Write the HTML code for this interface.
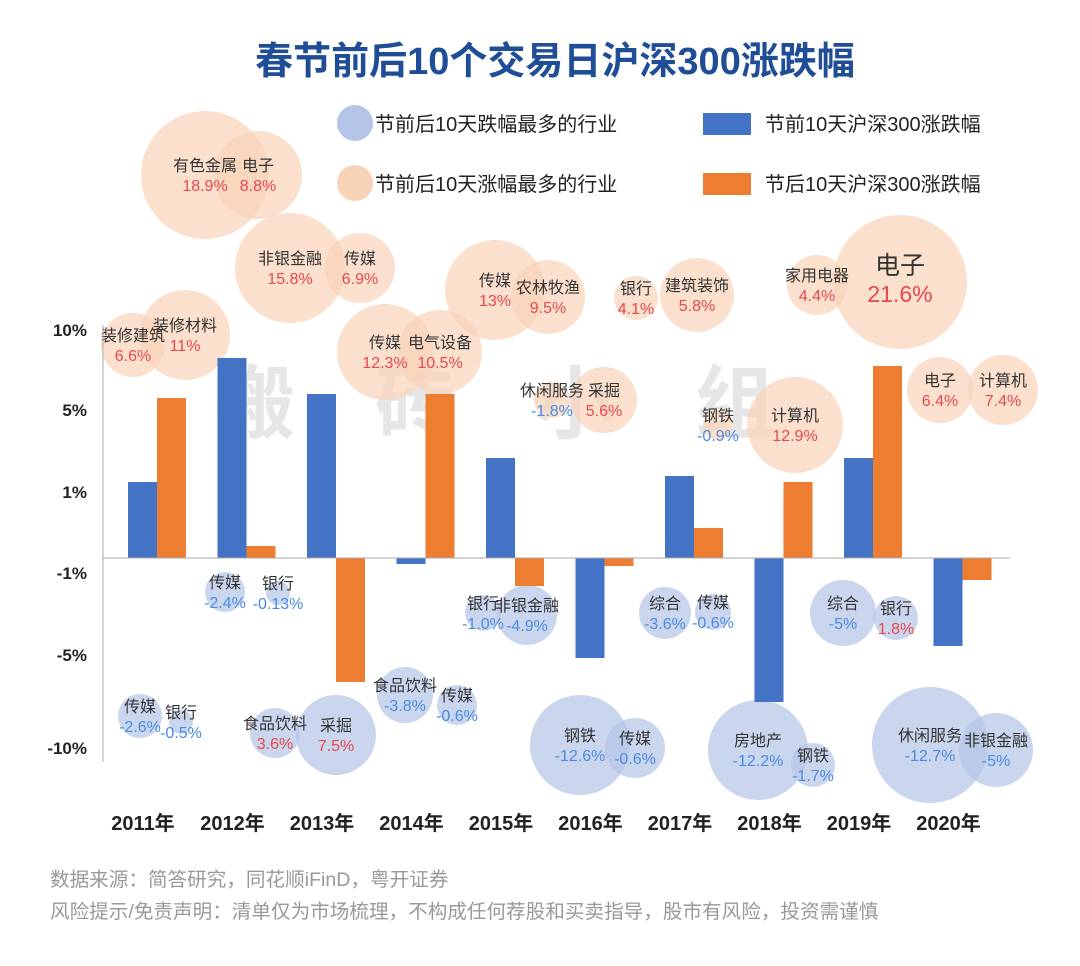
<!DOCTYPE html>
<html><head><meta charset="utf-8">
<style>
body{margin:0;background:#fff;font-family:"Liberation Sans","Noto Sans CJK SC",sans-serif;}
svg text{font-family:"Liberation Sans","Noto Sans CJK SC",sans-serif;}
</style></head>
<body>
<svg id="chart" width="1080" height="961" viewBox="0 0 1080 961" xmlns="http://www.w3.org/2000/svg">
<text x="555" y="74" text-anchor="middle" font-size="38" font-weight="bold" fill="#1f4e96">春节前后10个交易日沪深300涨跌幅</text>
<g font-size="80" font-weight="bold" fill="#e6e6e6">
<text x="215" y="432">搬</text><text x="375" y="432">砖</text><text x="535" y="432">小</text><text x="695" y="432">组</text>
</g>
<g font-size="20" fill="#222">
<circle cx="355" cy="123" r="18" fill="#b4c4e6"/>
<text x="375" y="131">节前后10天跌幅最多的行业</text>
<circle cx="355" cy="183" r="18" fill="#f8d3b8"/>
<text x="375" y="191">节前后10天涨幅最多的行业</text>
<rect x="703" y="113" width="48" height="22" fill="#4472c4"/>
<text x="765" y="131">节前10天沪深300涨跌幅</text>
<rect x="703" y="173" width="48" height="22" fill="#ed7d31"/>
<text x="765" y="191">节后10天沪深300涨跌幅</text>
</g>
<g id="yticks" font-size="17" font-weight="bold" fill="#222" text-anchor="end"></g>
<g id="bubbles"></g>
<g id="bars"></g>
<g id="btext"></g>
<g id="xaxis"></g>
<text x="50" y="886" font-size="19.6" fill="#999">数据来源：简答研究，同花顺iFinD，粤开证券</text>
<text x="50" y="918" font-size="19.6" fill="#999">风险提示/免责声明：清单仅为市场梳理，不构成任何荐股和买卖指导，股市有风险，投资需谨慎</text>
</svg>
<script>
const years=["2011年","2012年","2013年","2014年","2015年","2016年","2017年","2018年","2019年","2020年"];
const preValues=[1.9,5.0,4.1,-0.15,2.5,-2.5,2.05,-3.6,2.5,-2.2];
const postValues=[4.0,0.3,-3.1,4.1,-0.7,-0.2,0.75,1.9,4.8,-0.55];
const tickLabels=["10%","5%","1%","-1%","-5%","-10%"];
const tickY=[330,410,492,573,655,748];
const NS="http://www.w3.org/2000/svg";
const zeroY=558, pxPer=40, x0=157, step=89.5, bw=29;
function y(v){return zeroY-v*pxPer;}
function cx(i){return x0+step*i;}
function mk(tag,attrs,parent){const e=document.createElementNS(NS,tag);for(const k in attrs)e.setAttribute(k,attrs[k]);parent.appendChild(e);return e;}
const yt=document.getElementById('yticks');
tickLabels.forEach((t,i)=>{const e=mk('text',{x:87,y:tickY[i]+6},yt);


e.textContent=t;});
const bars=document.getElementById('bars');
years.forEach((yr,i)=>{
 const v=preValues[i];
 const b=mk('rect',{x:cx(i)-bw,y:Math.min(y(v),zeroY),width:bw,height:Math.abs(y(v)-zeroY),fill:'#4472c4'},bars);
 
 
 const w=postValues[i];
 const o=mk('rect',{x:cx(i),y:Math.min(y(w),zeroY),width:bw,height:Math.abs(y(w)-zeroY),fill:'#ed7d31'},bars);
 
 
});
const xa=document.getElementById('xaxis');
mk('line',{x1:103,y1:558,x2:1010,y2:558,stroke:'#aaa','stroke-width':1},xa);
mk('line',{x1:103,y1:325,x2:103,y2:762,stroke:'#aaa','stroke-width':1},xa);
years.forEach((yr,i)=>{const t=mk('text',{x:cx(i)-14,y:830,'text-anchor':'middle','font-size':20,'font-weight':'bold',fill:'#222'},xa);


t.textContent=yr;});
// bubble annotations: [cx,cy,r,label,value,type]
const bubbleData=[
[205,175,64,"有色金属","18.9%","o"],[258,175,44,"电子","8.8%","o"],
[290,268,55,"非银金融","15.8%","o"],[360,268,35,"传媒","6.9%","o"],
[133,345,32,"装修建筑","6.6%","o"],[185,335,45,"装修材料","11%","o"],
[385,352,48,"传媒","12.3%","o"],[440,352,42,"电气设备","10.5%","o"],
[495,290,50,"传媒","13%","o"],[548,297,37,"农林牧渔","9.5%","o"],
[636,298,22,"银行","4.1%","o"],[697,295,37,"建筑装饰","5.8%","o"],
[817,285,30,"家用电器","4.4%","o"],[900,282,67,"电子","21.6%","o"],
[552,400,18,"休闲服务","-1.8%","o"],[604,400,33,"采掘","5.6%","o"],
[718,425,15,"钢铁","-0.9%","o"],[795,425,48,"计算机","12.9%","o"],
[940,390,33,"电子","6.4%","o"],[1003,390,35,"计算机","7.4%","o"],
[225,592,20,"传媒","-2.4%","b"],[278,593,12,"银行","-0.13%","b"],
[140,716,22,"传媒","-2.6%","b"],[181,722,12,"银行","-0.5%","b"],
[275,733,25,"食品饮料","3.6%","b"],[336,735,40,"采掘","7.5%","b"],
[405,695,28,"食品饮料","-3.8%","b"],[457,705,20,"传媒","-0.6%","b"],
[483,613,18,"银行","-1.0%","b"],[527,615,30,"非银金融","-4.9%","b"],
[580,745,50,"钢铁","-12.6%","b"],[635,748,30,"传媒","-0.6%","b"],
[665,613,26,"综合","-3.6%","b"],[713,612,18,"传媒","-0.6%","b"],
[758,750,50,"房地产","-12.2%","b"],[813,765,22,"钢铁","-1.7%","b"],
[843,613,33,"综合","-5%","b"],[896,618,22,"银行","1.8%","b"],
[930,745,58,"休闲服务","-12.7%","b"],[996,750,37,"非银金融","-5%","b"]
];
const bg=document.getElementById('bubbles');
const bt=document.getElementById('btext');
bubbleData.forEach(d=>{
 const c=mk('circle',{cx:d[0],cy:d[1],r:d[2],fill:d[5]=='o'?'#f8d3b8':'#b4c4e6','fill-opacity':0.7},bg);
 
 
 const big=d[2]>65;
 const l=mk('text',{x:d[0],y:d[1]-(big?8:4),'text-anchor':'middle','font-size':big?25:16,fill:'#333'},bt);
 
 
 l.textContent=d[3];
 const neg=d[4][0]=='-';
 const v=mk('text',{x:d[0],y:d[1]+(big?20:16),'text-anchor':'middle','font-size':big?23:16,fill:neg?'#4a8ae0':'#e8474f'},bt);
 
 
 v.textContent=d[4];
});
</script>
</body></html>
